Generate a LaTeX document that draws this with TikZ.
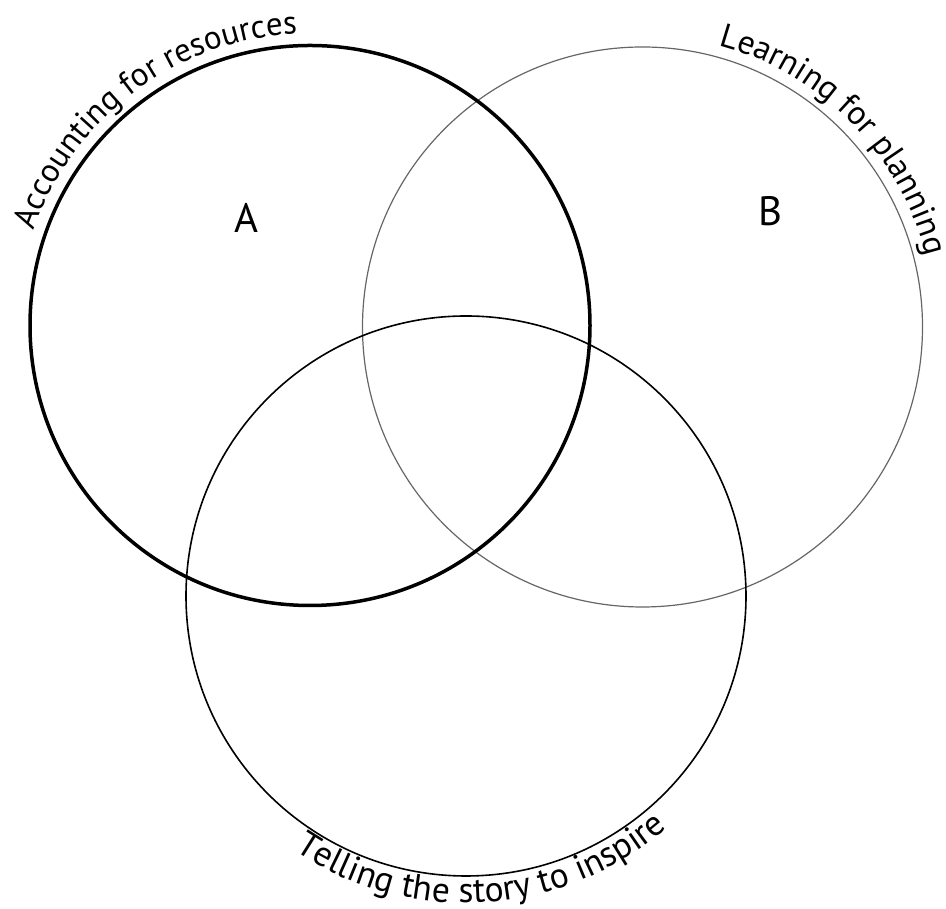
\documentclass[tikz,border=0pt]{standalone}
\usepackage{fontspec}
\setmainfont{PT Sans}
\usetikzlibrary{decorations.text,calc}
\begin{document}
\begin{tikzpicture}[x=1pt,y=1pt,
  arclabel/.style 2 args={decorate,decoration={text along path,text align=center,
     text={|\fontsize{#1}{#1}\selectfont|#2}}},
  letter/.style={font=\fontsize{41}{41}\selectfont,inner sep=0pt}]
\useasboundingbox (0,0) rectangle (946,909);
\coordinate (cA) at (310,583.5);
\coordinate (cB) at (642.5,582);
\coordinate (cC) at (466,313);
\draw[black!60,line width=1.2pt] (cB) circle[radius=280];
\draw[black,line width=1.6pt] (cC) circle[radius=280];
\draw[black,line width=3.5pt] (cA) circle[radius=280];
\node[letter] (la) at (246,691) {A};
\node[letter] (lb) at (770,697.5) {B};
\path[arclabel={33}{Accounting for resources}] ($(cA)+(176.75:292)$) arc[start angle=176.75,end angle=76.75,radius=292];
\path[arclabel={33.5}{Learning for planning}] ($(cB)+(94.4:292)$) arc[start angle=94.4,end angle=-5.6,radius=292];
\path[arclabel={35.5}{Telling the story to inspire}] ($(cC)+(223.5:307)$) arc[start angle=223.5,end angle=323.5,radius=307];
\end{tikzpicture}
\end{document}
